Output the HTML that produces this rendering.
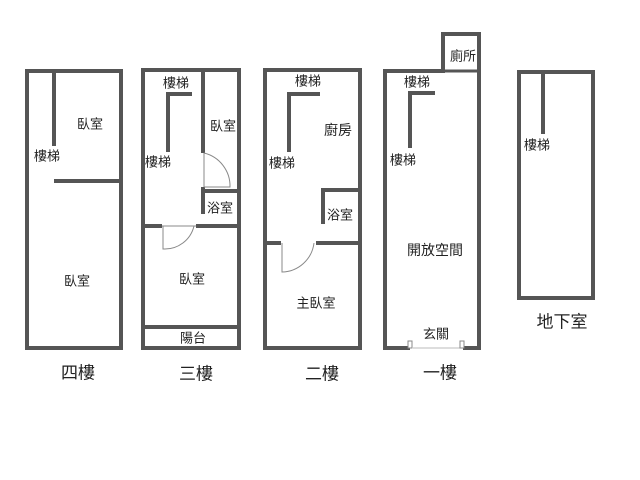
<!DOCTYPE html>
<html><head><meta charset="utf-8"><style>
html,body{margin:0;padding:0;background:#fff;}
svg{display:block;}
text{font-family:"Liberation Sans","Noto Sans CJK TC",sans-serif;fill:#222;text-anchor:middle;dominant-baseline:central;}
.s{font-size:13px;}
.b{font-size:17px;}
</style></head><body>
<svg width="640" height="480" viewBox="0 0 640 480" xmlns="http://www.w3.org/2000/svg">
<g stroke="#555" stroke-width="4" fill="none">
<!-- 4F -->
<rect x="27" y="71" width="94" height="277"/>
<line x1="54" y1="71" x2="54" y2="146"/>
<line x1="54" y1="181" x2="121" y2="181"/>
<!-- 3F -->
<rect x="143" y="70" width="96" height="278"/>
<polyline points="192,94 168,94 168,152"/>
<line x1="203" y1="70" x2="203" y2="153"/>
<line x1="203" y1="187" x2="203" y2="214"/>
<line x1="203" y1="191" x2="239" y2="191"/>
<line x1="143" y1="226" x2="162" y2="226"/>
<line x1="196" y1="226" x2="239" y2="226"/>
<line x1="143" y1="327" x2="239" y2="327"/>
<!-- 2F -->
<rect x="265" y="70" width="95" height="278"/>
<polyline points="320,94 289,94 289,152"/>
<polyline points="360,190 323,190 323,224"/>
<line x1="265" y1="243" x2="281" y2="243"/>
<line x1="316" y1="243" x2="360" y2="243"/>
<!-- 1F -->
<polyline points="410,348 385,348 385,71 443,71 443,34 479,34 479,348 463,348"/>
<line x1="443" y1="71" x2="479" y2="71" stroke-width="3"/>
<polyline points="435,93 410,93 410,148"/>
<!-- B -->
<rect x="519" y="72" width="74" height="226"/>
<line x1="543" y1="72" x2="543" y2="134"/>
</g>
<!-- doors -->
<g stroke="#888" stroke-width="1" fill="none">
<line x1="204" y1="153" x2="204" y2="187"/>
<path d="M204,153 A34,34 0 0 1 230,187 L204,187"/>
<line x1="162" y1="226" x2="196" y2="226"/>
<path d="M163,226 L163,249 A30,30 0 0 0 194,226"/>
<path d="M282,243 L282,272 A33,33 0 0 0 314,243"/>
<line x1="413" y1="348" x2="460" y2="348" stroke="#bbb"/>
<rect x="408" y="341" width="4" height="7" fill="#fff"/>
<rect x="460" y="341" width="4" height="7" fill="#fff"/>
</g>
<g class="s">
<text x="90" y="124">臥室</text>
<text x="47" y="156">樓梯</text>
<text x="77" y="281">臥室</text>
<text x="176" y="83">樓梯</text>
<text x="223" y="126">臥室</text>
<text x="158" y="162">樓梯</text>
<text x="220" y="208">浴室</text>
<text x="192" y="279">臥室</text>
<text x="193" y="338">陽台</text>
<text x="308" y="81">樓梯</text>
<text x="338" y="130" style="font-size:14px">廚房</text>
<text x="282" y="163">樓梯</text>
<text x="340" y="215">浴室</text>
<text x="316" y="303">主臥室</text>
<text x="463" y="56">廁所</text>
<text x="417" y="82">樓梯</text>
<text x="403" y="160">樓梯</text>
<text x="435" y="250" style="font-size:14px">開放空間</text>
<text x="436" y="334">玄關</text>
<text x="537" y="145">樓梯</text>
</g>
<g class="b">
<text x="78" y="373">四樓</text>
<text x="196" y="374">三樓</text>
<text x="322" y="374">二樓</text>
<text x="440" y="373">一樓</text>
<text x="562" y="322">地下室</text>
</g>
</svg>
</body></html>
